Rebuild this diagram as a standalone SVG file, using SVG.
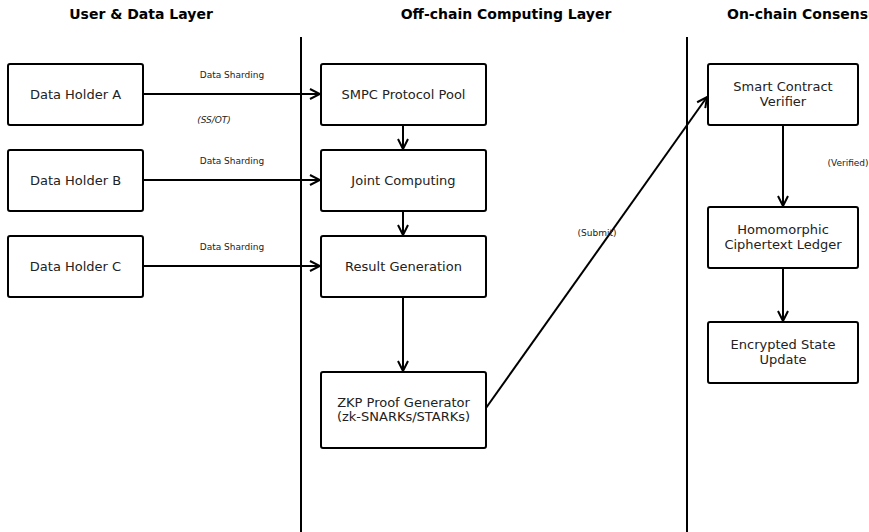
<svg xmlns="http://www.w3.org/2000/svg" width="869" height="532" viewBox="0 0 869 532">
<style>
.t{font-family:"DejaVu Sans",sans-serif;font-weight:bold;font-size:14px;fill:#000;text-anchor:middle}
.n rect{fill:#fff;stroke:#000;stroke-width:2}
.n text{font-family:"DejaVu Sans",sans-serif;font-size:13px;fill:#222;text-anchor:middle}
.l{font-family:"DejaVu Sans",sans-serif;font-size:9px;fill:#222;text-anchor:middle}
.c line{stroke:#000;stroke-width:2;fill:none}
.c .a{marker-end:url(#ah)}
</style>
<defs>
<marker id="ah" viewBox="0 0 12 12" refX="11" refY="6" markerWidth="12" markerHeight="12" markerUnits="userSpaceOnUse" orient="auto">
<path d="M1,1 L11,6 L1,11" fill="none" stroke="#000" stroke-width="2"/>
</marker>
</defs>
<rect width="869" height="532" fill="#fff"/>
<text class="t" x="141" y="19">User &amp; Data Layer</text>
<text class="t" x="506" y="19">Off-chain Computing Layer</text>
<text class="t" x="727" y="19" style="text-anchor:start">On-chain Consensus Layer</text>
<g class="c" id="connectors">
<line x1="301" y1="37" x2="301" y2="532"/>
<line x1="687" y1="37" x2="687" y2="532"/>
<line class="a" x1="143" y1="94" x2="320" y2="94"/>
<line class="a" x1="143" y1="180" x2="320" y2="180"/>
<line class="a" x1="143" y1="266" x2="320" y2="266"/>
<line class="a" x1="403" y1="125" x2="403" y2="149"/>
<line class="a" x1="403" y1="211" x2="403" y2="235"/>
<line class="a" x1="403" y1="297" x2="403" y2="371"/>
<line class="a" x1="486" y1="408" x2="707" y2="97"/>
<line class="a" x1="783" y1="125" x2="783" y2="206"/>
<line class="a" x1="783" y1="268" x2="783" y2="321"/>
<text class="l" x="232" y="78">Data Sharding</text>
<text class="l" x="214" y="123" font-style="italic">(SS/OT)</text>
<text class="l" x="232" y="164">Data Sharding</text>
<text class="l" x="232" y="250">Data Sharding</text>
<text class="l" x="597" y="236">(Submit)</text>
<text class="l" x="848" y="166">(Verified)</text>
</g>
<g class="n" id="holderA"><rect x="8" y="64" width="135" height="61" rx="2"/><text x="75.5" y="99">Data Holder A</text></g>
<g class="n" id="holderB"><rect x="8" y="150" width="135" height="61" rx="2"/><text x="75.5" y="185">Data Holder B</text></g>
<g class="n" id="holderC"><rect x="8" y="236" width="135" height="61" rx="2"/><text x="75.5" y="271">Data Holder C</text></g>
<g class="n" id="smpc"><rect x="321" y="64" width="165" height="61" rx="2"/><text x="403.5" y="99">SMPC Protocol Pool</text></g>
<g class="n" id="joint"><rect x="321" y="150" width="165" height="61" rx="2"/><text x="403.5" y="185">Joint Computing</text></g>
<g class="n" id="result"><rect x="321" y="236" width="165" height="61" rx="2"/><text x="403.5" y="271">Result Generation</text></g>
<g class="n" id="zkp"><rect x="321" y="372" width="165" height="76" rx="2"/><text x="403.5" y="407">ZKP Proof Generator</text><text x="403.5" y="421">(zk-SNARKs/STARKs)</text></g>
<g class="n" id="verifier"><rect x="708" y="64" width="150" height="61" rx="2"/><text x="783" y="91">Smart Contract</text><text x="783" y="106">Verifier</text></g>
<g class="n" id="ledger"><rect x="708" y="207" width="150" height="61" rx="2"/><text x="783" y="234">Homomorphic</text><text x="783" y="249">Ciphertext Ledger</text></g>
<g class="n" id="state"><rect x="708" y="322" width="150" height="61" rx="2"/><text x="783" y="349">Encrypted State</text><text x="783" y="364">Update</text></g>
</svg>
